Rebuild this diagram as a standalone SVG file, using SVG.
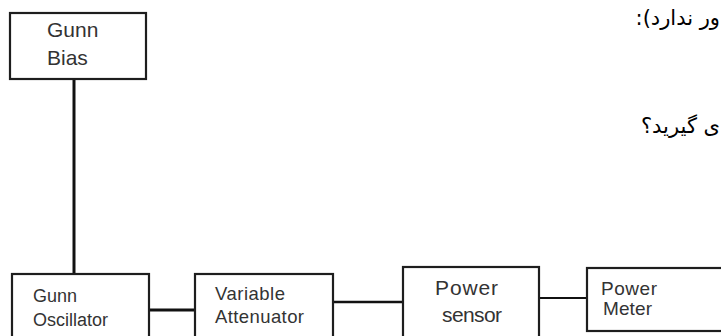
<svg xmlns="http://www.w3.org/2000/svg" width="721" height="336" viewBox="0 0 721 336">
  <style>
    .box { fill: #ffffff; stroke: #1e1e1e; stroke-width: 2.2; }
    .lbl { font-family: "Liberation Sans", Arial, sans-serif; fill: #333333; }
    .wire { stroke: #111111; fill: none; }
    .fa { font-family: "DejaVu Sans", "Noto Sans", sans-serif; font-size: 21px; fill: #000000; }
  </style>
  <rect width="721" height="336" fill="#ffffff"/>
  <g id="connectors">
    <line class="wire" x1="74" y1="79" x2="74" y2="275" stroke-width="3"/>
    <line class="wire" x1="149" y1="310" x2="195" y2="310" stroke-width="3"/>
    <line class="wire" x1="333" y1="302" x2="403" y2="302" stroke-width="2.5"/>
    <line class="wire" x1="539" y1="298" x2="587" y2="298" stroke-width="2"/>
  </g>
  <g id="gunn-bias">
    <rect class="box" x="10" y="13" width="136" height="66"/>
    <text class="lbl" x="47" y="37" font-size="21">Gunn</text>
    <text class="lbl" x="47" y="65" font-size="21">Bias</text>
  </g>
  <g id="gunn-oscillator">
    <rect class="box" x="12" y="274" width="137" height="80"/>
    <text class="lbl" x="33" y="302" font-size="18">Gunn</text>
    <text class="lbl" x="33" y="326" font-size="18">Oscillator</text>
  </g>
  <g id="variable-attenuator">
    <rect class="box" x="195" y="274" width="138" height="80"/>
    <text class="lbl" x="215" y="300" font-size="18.5" textLength="70">Variable</text>
    <text class="lbl" x="215" y="323" font-size="18.5" textLength="89">Attenuator</text>
  </g>
  <g id="power-sensor">
    <rect class="box" x="403" y="267" width="136" height="85"/>
    <text class="lbl" x="435" y="295" font-size="21" textLength="63">Power</text>
    <text class="lbl" x="442" y="322" font-size="21" textLength="60">sensor</text>
  </g>
  <g id="power-meter">
    <rect class="box" x="587" y="268" width="150" height="63"/>
    <text class="lbl" x="601" y="295" font-size="19" textLength="56">Power</text>
    <text class="lbl" x="603" y="315" font-size="19" textLength="49">Meter</text>
  </g>
  <text class="fa" x="720" y="25" direction="rtl" text-anchor="start">ور ندارد):</text>
  <text class="fa" x="720" y="133" direction="rtl" text-anchor="start">ی گیرید؟</text>
</svg>
